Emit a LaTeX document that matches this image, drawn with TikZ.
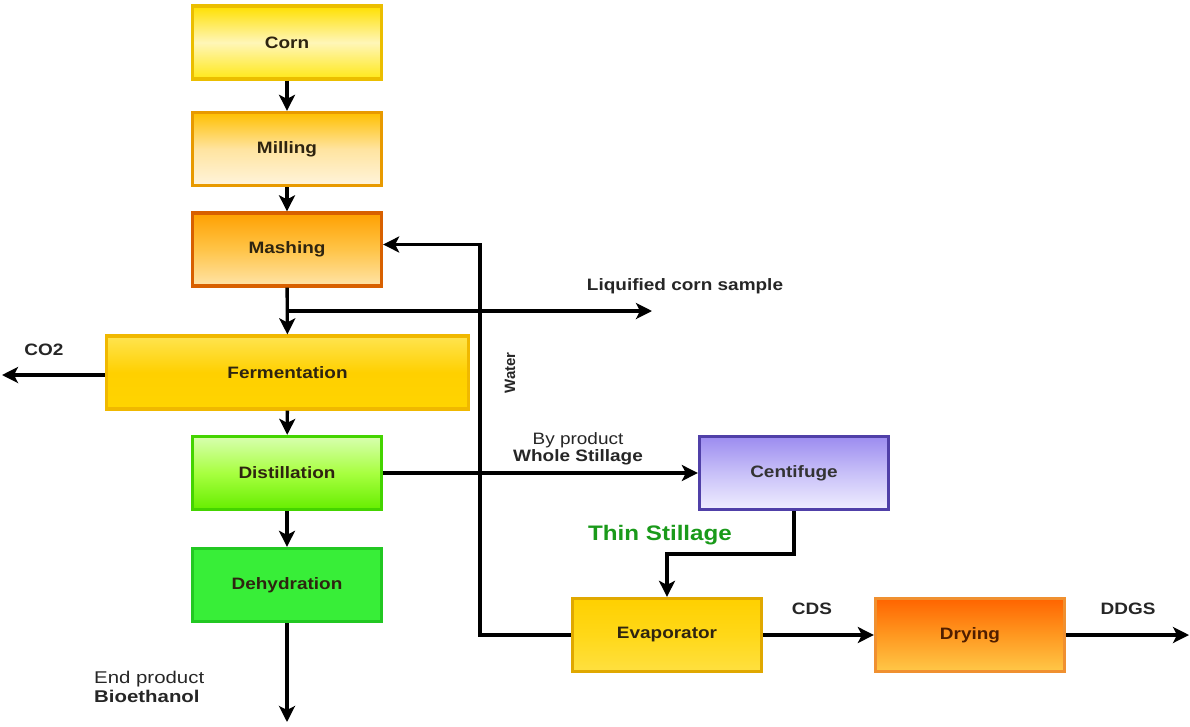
\documentclass[tikz,border=0pt]{standalone}
\usepackage{fontspec}
\setmainfont{Liberation Sans}
\usetikzlibrary{arrows.meta,calc}
\newcommand\sx[1]{\scalebox{1.15}[1]{#1}}
\definecolor{txtdark}{HTML}{2E2410}
\definecolor{thingreen}{HTML}{1A9A1A}
\definecolor{cornD}{HTML}{EBBE00}\definecolor{cornT}{HTML}{FFE000}\definecolor{cornB}{HTML}{FFE818}\definecolor{cornM}{HTML}{FFF6B8}
\definecolor{millD}{HTML}{E89A00}\definecolor{millT}{HTML}{FFC000}\definecolor{millB}{HTML}{FFF4DC}\definecolor{millM}{HTML}{FFE4A0}
\definecolor{mashD}{HTML}{D86000}\definecolor{mashT}{HTML}{FFA000}\definecolor{mashB}{HTML}{FFE4A8}\definecolor{mashM}{HTML}{FFC448}
\definecolor{fermD}{HTML}{F0B800}\definecolor{fermT}{HTML}{FFE450}\definecolor{fermB}{HTML}{FFD400}\definecolor{fermM}{HTML}{FFD000}
\definecolor{distD}{HTML}{44D400}\definecolor{distT}{HTML}{D8FFB0}\definecolor{distB}{HTML}{66EE00}\definecolor{distM}{HTML}{A8FF40}
\definecolor{dehyD}{HTML}{22C822}\definecolor{dehyF}{HTML}{38EE38}
\definecolor{centD}{HTML}{5040A8}\definecolor{centT}{HTML}{9C8CF0}\definecolor{centB}{HTML}{F0EEFF}\definecolor{centM}{HTML}{C8C0F8}
\definecolor{evapD}{HTML}{E0A800}\definecolor{evapT}{HTML}{FFD000}\definecolor{evapB}{HTML}{FFE040}\definecolor{evapM}{HTML}{FFD818}
\definecolor{dryD}{HTML}{F09030}\definecolor{dryT}{HTML}{FF6400}\definecolor{dryB}{HTML}{FFC848}\definecolor{dryM}{HTML}{FF9820}
\tikzset{
  box/.style={draw, line width=3.3pt, minimum width=189pt, minimum height=73pt, inner sep=0pt,
    font=\fontsize{16.5}{19}\selectfont\bfseries, text=txtdark},
  arr/.style={line width=3.4pt, -{Stealth[length=16pt,width=16pt,inset=4pt]}},
  lbl/.style={font=\fontsize{16.5}{19}\selectfont\bfseries, text=black!85, inner sep=1pt},
  lbln/.style={font=\fontsize{16.5}{17}\selectfont, text=black!85, inner sep=1pt},
}
\begin{document}
\begin{tikzpicture}[x=1pt,y=-1pt]
\useasboundingbox (0,0) rectangle (1190,726);
\fill[white] (0,0) rectangle (1190,726);

\node[box, draw=cornD, top color=cornT, bottom color=cornB, middle color=cornM] (corn) at (287,42.5) {\sx{Corn}};
\node[box, draw=millD, top color=millT, bottom color=millB, middle color=millM] (mill) at (287,149) {\sx{Milling}};
\node[box, draw=mashD, top color=mashT, bottom color=mashB, middle color=mashM] (mash) at (287,249.5) {\sx{Mashing}};
\node[box, minimum width=362pt, draw=fermD, top color=fermT, bottom color=fermB, middle color=fermM] (ferm) at (287.5,372.5) {\sx{Fermentation}};
\node[box, draw=distD, top color=distT, bottom color=distB, middle color=distM] (dist) at (287,473) {\sx{Distillation}};
\node[box, draw=dehyD, fill=dehyF] (dehy) at (287,585) {\sx{Dehydration}};
\node[box, draw=centD, top color=centT, bottom color=centB, middle color=centM, text=black!80] (cent) at (794,473) {\sx{Centifuge}};
\node[box, draw=evapD, top color=evapT, bottom color=evapB, middle color=evapM] (evap) at (667,635) {\sx{Evaporator}};
\node[box, draw=dryD, top color=dryT, bottom color=dryB, middle color=dryM, text={rgb,255:red,80;green,30;blue,0}] (dry) at (970,635) {\sx{Drying}};

% main chain
\draw[arr] (corn) -- (mill);
\draw[arr] (mill) -- (mash);
\draw[arr] (mash) -- (ferm);
\draw[arr] (ferm) -- (dist);
\draw[arr] (dist) -- (dehy);

% liquified corn sample
\coordinate (br) at (287,311);
\coordinate (lq) at (652,311);
\draw[arr] (br) -- (lq);
\node[lbl] (lqlbl) at (685,286) {\sx{Liquified corn sample}};

% CO2
\coordinate (co2end) at (2,375);
\draw[arr] (ferm.west |- co2end) -- (co2end);
\node[lbl] (co2lbl) at (44,350) {\sx{CO2}};

% water
\coordinate (wc) at (480,635);
\draw[arr] (evap.west) -- (wc) |- ([yshift=5pt]mash.east);
\node[lbl, rotate=90, font=\fontsize{15}{17}\selectfont\bfseries] (wlbl) at (510,373) {Water};

% whole stillage
\draw[arr] (dist.east) -- (cent.west);
\node[lbln, align=center] (bylbl) at (578,449) {\sx{By product}\\\sx{\bfseries Whole Stillage}};

% thin stillage
\coordinate (tc) at (794,554);
\draw[arr] (cent.south) -- (tc) -| (evap.north);
\node[lbl, text=thingreen, font=\fontsize{21}{23}\selectfont\bfseries] (tlbl) at (660,535) {\sx{Thin Stillage}};

% CDS
\draw[arr] (evap.east) -- (dry.west);
\node[lbl] (cdslbl) at (812,609) {\sx{CDS}};

% DDGS
\coordinate (ddend) at (1189,635);
\draw[arr] (dry.east) -- (ddend);
\node[lbl] (ddlbl) at (1128,609) {\sx{DDGS}};

% bioethanol
\coordinate (bioend) at (287,722);
\draw[arr] (dehy.south) -- (bioend);
\node[lbln, align=left, anchor=west, font=\fontsize{17}{19}\selectfont] (endlbl) at (93,687) {\scalebox{1.2}[1]{End product}\\\scalebox{1.2}[1]{\bfseries Bioethanol}};
\end{tikzpicture}
\end{document}
